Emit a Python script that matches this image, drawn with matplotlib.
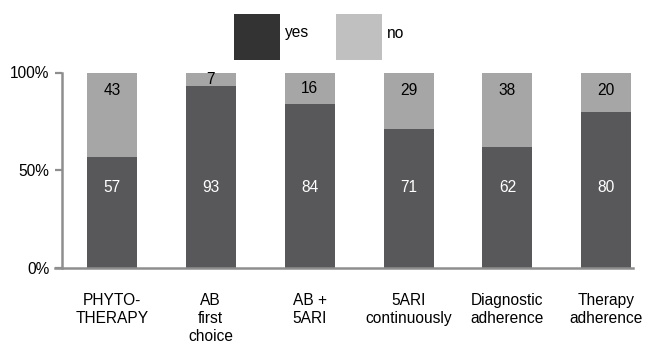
import matplotlib
matplotlib.use("Agg")
import matplotlib.pyplot as plt
from matplotlib.patches import Rectangle

plt.rcParams['font.family'] = ['Liberation Sans', 'DejaVu Sans']

categories = ["PHYTO-\nTHERAPY", "AB\nfirst\nchoice", "AB +\n5ARI",
              "5ARI\ncontinuously", "Diagnostic\nadherence", "Therapy\nadherence"]
yes_vals = [57, 93, 84, 71, 62, 80]
no_vals = [43, 7, 16, 29, 38, 20]
y_ticks = [0, 50, 100]
y_tick_labels = ["0%", "50%", "100%"]

YES_BAR = "#58585b"
NO_BAR = "#a6a6a6"
YES_KEY = "#333333"
NO_KEY = "#c0c0c0"
AXIS = "#8e8e8e"
FS = 11.2

W, H = 653, 346
fig = plt.figure(figsize=(W / 100, H / 100), dpi=100)
ax = fig.add_axes([62 / W, 78 / H, (633 - 62) / W, (268 - 72.5) / H])

x = list(range(len(categories)))
ax.bar(x, yes_vals, width=0.505, color=YES_BAR, linewidth=0)
ax.bar(x, no_vals, width=0.505, bottom=yes_vals, color=NO_BAR, linewidth=0)

for xi, yv, nv in zip(x, yes_vals, no_vals):
    ax.text(xi, 41, str(yv), ha="center", va="center", color="white", fontsize=FS)
    ax.text(xi, max(91, yv + nv / 2), str(nv), ha="center", va="center",
            color="black", fontsize=FS)

ax.set_xlim(-0.505, 5.27)
ax.set_ylim(0, 100)
ax.set_yticks(y_ticks)
ax.set_yticklabels(y_tick_labels, fontsize=FS)
ax.set_xticks(x)
ax.set_xticklabels(categories, fontsize=FS, linespacing=1.25, va="top")
ax.tick_params(axis="x", length=0, pad=18)
ax.tick_params(axis="y", length=5, width=1.6, color=AXIS, pad=4)
for side in ("top", "right"):
    ax.spines[side].set_visible(False)
for side in ("left", "bottom"):
    ax.spines[side].set_color(AXIS)
    ax.spines[side].set_linewidth(1.8)
ax.spines["bottom"].set_bounds(-0.505 - 7 / 99, 5.27)

# legend keys drawn in figure pixels
for x0, colour, label in [(234, YES_KEY, "yes"), (336, NO_KEY, "no")]:
    fig.add_artist(Rectangle((x0 / W, (H - 60) / H), 46 / W, 46 / H,
                             transform=fig.transFigure, color=colour, lw=0))
    fig.text((x0 + 51) / W, (H - 33) / H, label, ha="left", va="center", fontsize=FS)

fig.savefig("out.png", dpi=100)
